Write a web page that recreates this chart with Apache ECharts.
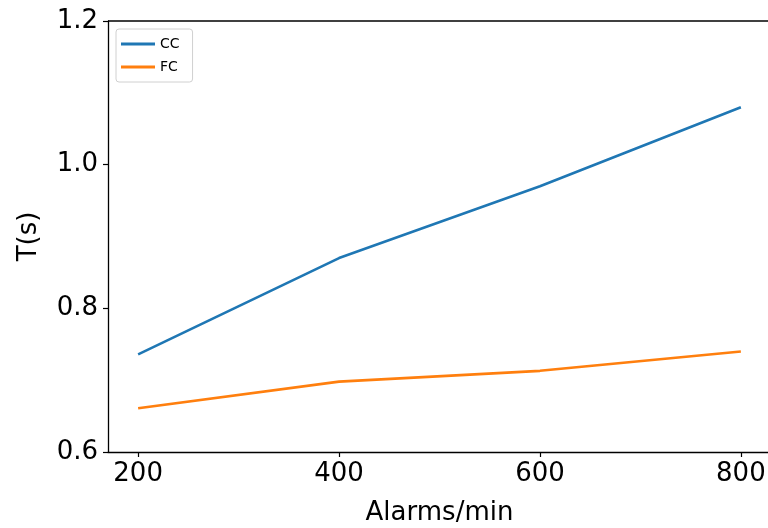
<!DOCTYPE html>
<html lang="en">
<head>
    <meta charset="UTF-8">
    <script src="https://cdn.jsdelivr.net/npm/echarts@6/dist/echarts.min.js"></script>
    <title>Document</title>
    <style>
        body { margin: 0; background: #fff; }
    </style>
</head>
<body>
    <div id="main" style="width: 768px;height:528px;"></div>
    <script type="text/javascript">
        var alarms = [200, 400, 600, 800];
        var cc_list = [0.736, 0.870, 0.970, 1.080];
        var fc_list = [0.661, 0.698, 0.713, 0.740];
        var x_ticks = [200, 400, 600, 800];
        var y_ticks = [0.6, 0.8, 1.0, 1.2];

        var myChart = echarts.init(document.getElementById('main'));

        function pairs(xs, ys) {
            return xs.map(function (x, i) { return [x, ys[i]]; });
        }

        var font = 'DejaVu Sans';
        var option = {
            backgroundColor: '#fff',
            animation: false,
            grid: { left: 108, right: -3, top: 21, bottom: 76, outerBoundsMode: 'none' },
            legend: {
                left: 116, top: 29,
                orient: 'vertical',
                data: ['CC', 'FC'],
                icon: 'rect',
                itemWidth: 34, itemHeight: 3,
                itemGap: 9,
                padding: [8, 13, 8, 5],
                borderColor: '#d0d0d0', borderWidth: 1, borderRadius: 3,
                textStyle: { fontFamily: font, fontSize: 14, color: '#000' }
            },
            xAxis: {
                type: 'value',
                min: 170, max: 830,
                name: 'Alarms/min',
                nameLocation: 'middle',
                nameGap: 48,
                nameTextStyle: { fontFamily: font, fontSize: 26, color: '#000' },
                splitLine: { show: false },
                axisLine: { lineStyle: { color: '#000', width: 1.3 } },
                axisTick: { customValues: x_ticks, length: 5, lineStyle: { color: '#000', width: 1.2 } },
                axisLabel: { customValues: x_ticks, fontFamily: font, fontSize: 26, color: '#000', margin: 9 }
            },
            yAxis: {
                type: 'value',
                min: 0.6, max: 1.2,
                name: 'T(s)',
                nameLocation: 'middle',
                nameGap: 66,
                nameTextStyle: { fontFamily: font, fontSize: 26, color: '#000' },
                splitLine: { show: false },
                axisLine: { show: true, lineStyle: { color: '#000', width: 1.3 } },
                axisTick: { show: true, customValues: y_ticks, length: 5, lineStyle: { color: '#000', width: 1.2 } },
                axisLabel: {
                    customValues: y_ticks, fontFamily: font, fontSize: 26, color: '#000', margin: 10,
                    formatter: function (v) { return v.toFixed(1); }
                }
            },
            series: [
                {
                    name: 'CC', type: 'line', data: pairs(alarms, cc_list),
                    showSymbol: false, color: '#1f77b4',
                    lineStyle: { width: 2.6 }
                },
                {
                    name: 'FC', type: 'line', data: pairs(alarms, fc_list),
                    showSymbol: false, color: '#ff7f0e',
                    lineStyle: { width: 2.6 }
                }
            ],
            graphic: [{
                type: 'line', shape: { x1: 108, y1: 21, x2: 768, y2: 21 },
                style: { stroke: '#000', lineWidth: 1.3 }
            }]
        };

        myChart.setOption(option);
    </script>
</body>
</html>
